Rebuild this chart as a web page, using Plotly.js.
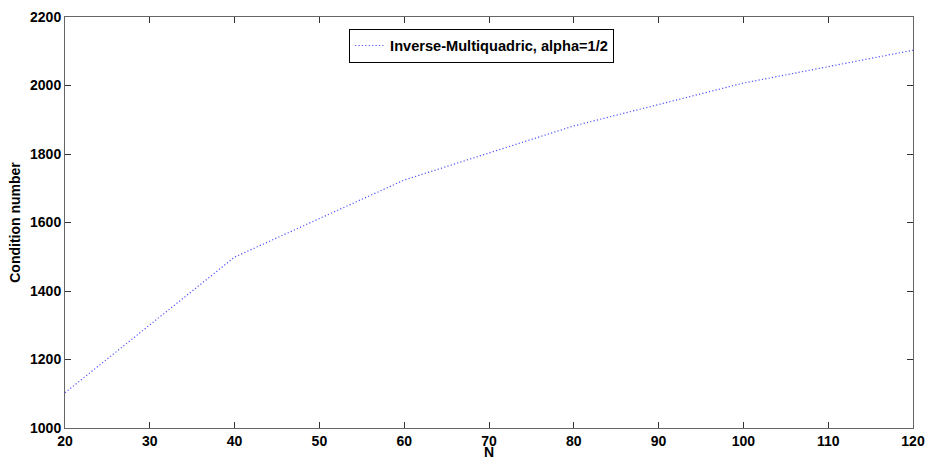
<!DOCTYPE html>
<html>
<head>
<meta charset="utf-8">
<script src="https://cdn.plot.ly/plotly-3.0.1.min.js"></script>
<style>html,body{margin:0;padding:0;background:#fff;}#chart{width:928px;height:460px;}</style>
</head>
<body>
<div id="chart"></div>
<script>
const N = [20, 40, 60, 80, 100, 120];
const condNumber = [1103, 1499, 1724, 1882, 2007, 2103];
const seriesName = 'Inverse-Multiquadric, alpha=1/2';
const xTicks = [20, 30, 40, 50, 60, 70, 80, 90, 100, 110, 120];
const yTicks = [1000, 1200, 1400, 1600, 1800, 2000, 2200];

const fam = 'Liberation Sans, Arial, sans-serif';
const bold14 = {family: fam, size: 14, color: '#000', weight: 'bold'};
const trace = {
  x: N, y: condNumber, type: 'scatter', mode: 'lines', name: seriesName,
  line: {color: 'rgb(80,80,255)', width: 1.2, dash: '1.2px,2.2px'}
};
const axisCommon = {
  showgrid: false, zeroline: false, showline: true, linecolor: '#666', linewidth: 1,
  mirror: 'ticks', ticks: 'inside', ticklen: 6, tickcolor: '#333', tickwidth: 1,
  tickfont: bold14
};
const layout = {
  width: 928, height: 460,
  margin: {l: 65, r: 15, t: 17, b: 32},
  paper_bgcolor: '#fff', plot_bgcolor: '#fff',
  font: {family: fam, size: 14, color: '#000'},
  showlegend: true,
  legend: {x: 0.335, y: 0.972, xanchor: 'left', yanchor: 'top', bordercolor: '#000', borderwidth: 1,
    bgcolor: '#fff', font: {family: fam, size: 14.6, color: '#000', weight: 'bold'},
    tracegroupgap: 0, itemwidth: 30},
  xaxis: Object.assign({}, axisCommon, {
    range: [20, 120], tickvals: xTicks, ticktext: xTicks.map(String),
    title: {text: 'N', font: bold14, standoff: 3}
  }),
  yaxis: Object.assign({}, axisCommon, {
    range: [1000, 2200], tickvals: yTicks, ticktext: yTicks.map(String),
    title: {text: 'Condition number', font: bold14, standoff: 6}
  })
};
Plotly.newPlot('chart', [trace], layout, {displayModeBar: false, staticPlot: true});
</script>
</body>
</html>
